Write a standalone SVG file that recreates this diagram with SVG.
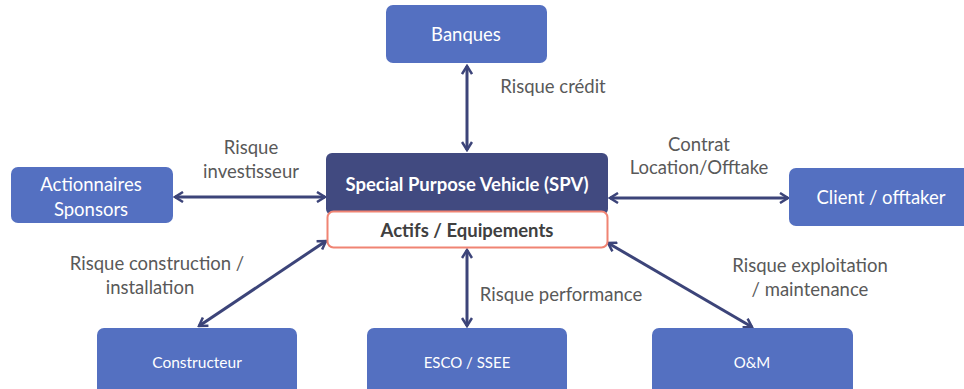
<svg xmlns="http://www.w3.org/2000/svg" width="964" height="389" viewBox="0 0 964 389">
<defs>
<style>
.node{fill:#5470c1;}
.nt{fill:#ffffff;font-family:Lato,"Liberation Sans",sans-serif;text-anchor:middle;dominant-baseline:central;}
.lbl{fill:#595959;font-family:Lato,"Liberation Sans",sans-serif;font-size:18.5px;text-anchor:middle;dominant-baseline:central;}
.conn{stroke:#3c4479;stroke-width:3;fill:none;marker-start:url(#ah);marker-end:url(#ah);}
</style>
<marker id="ah" viewBox="0 0 12 12" refX="10" refY="6" markerWidth="12" markerHeight="12" markerUnits="userSpaceOnUse" orient="auto-start-reverse">
<path d="M2,1 L10,6 L2,11" fill="none" stroke="#3c4479" stroke-width="2.5" stroke-linejoin="miter"/>
</marker>
</defs>
<rect width="964" height="389" fill="#ffffff"/>
<g id="connectors">
<line class="conn" x1="467" y1="66" x2="467" y2="150"/>
<line class="conn" x1="175" y1="197" x2="325" y2="197"/>
<line class="conn" x1="610" y1="198" x2="788" y2="198"/>
<line class="conn" x1="199" y1="326" x2="326" y2="241"/>
<line class="conn" x1="467" y1="250" x2="467" y2="326"/>
<line class="conn" x1="608" y1="243" x2="752" y2="327"/>
</g>
<g id="labels">
<text class="lbl" x="553" y="86">Risque crédit</text>
<text class="lbl" x="251" y="147">Risque</text>
<text class="lbl" x="251" y="171">investisseur</text>
<text class="lbl" x="699" y="144">Contrat</text>
<text class="lbl" x="699" y="167">Location/Offtake</text>
<text class="lbl" x="157" y="263">Risque construction /</text>
<text class="lbl" x="150" y="287">installation</text>
<text class="lbl" x="561" y="294">Risque performance</text>
<text class="lbl" x="810" y="265">Risque exploitation</text>
<text class="lbl" x="810" y="289">/ maintenance</text>
</g>
<g id="banques">
<rect class="node" x="386" y="5" width="161" height="58" rx="7"/>
<text class="nt" x="466" y="34" font-size="18.5">Banques</text>
</g>
<g id="actionnaires">
<rect class="node" x="11" y="167" width="162" height="56" rx="7"/>
<text class="nt" x="91" y="184" font-size="18.5">Actionnaires</text>
<text class="nt" x="91" y="209" font-size="18.5">Sponsors</text>
</g>
<g id="client">
<rect class="node" x="789" y="168" width="190" height="58" rx="7"/>
<text class="nt" x="881" y="197" font-size="18.5">Client / offtaker</text>
</g>
<g id="spv">
<rect x="326" y="153" width="282" height="62" rx="6" fill="#414a80"/>
<text class="nt" x="467" y="184" font-size="18.5" font-weight="bold">Special Purpose Vehicle (SPV)</text>
</g>
<g id="actifs">
<rect x="327.5" y="211.5" width="280" height="36" rx="6" fill="#ffffff" stroke="#f08473" stroke-width="2"/>
<text x="467" y="230" font-size="18.5" font-weight="bold" fill="#404040" font-family="Lato,'Liberation Sans',sans-serif" text-anchor="middle" dominant-baseline="central">Actifs / Equipements</text>
</g>
<g id="constructeur">
<rect class="node" x="97" y="328" width="200" height="70" rx="7"/>
<text class="nt" x="197" y="362" font-size="15.5">Constructeur</text>
</g>
<g id="esco">
<rect class="node" x="367" y="328" width="200" height="70" rx="7"/>
<text class="nt" x="467" y="362" font-size="15">ESCO / SSEE</text>
</g>
<g id="om">
<rect class="node" x="652" y="328" width="201" height="70" rx="7"/>
<text class="nt" x="752" y="362" font-size="15">O&amp;M</text>
</g>
</svg>
